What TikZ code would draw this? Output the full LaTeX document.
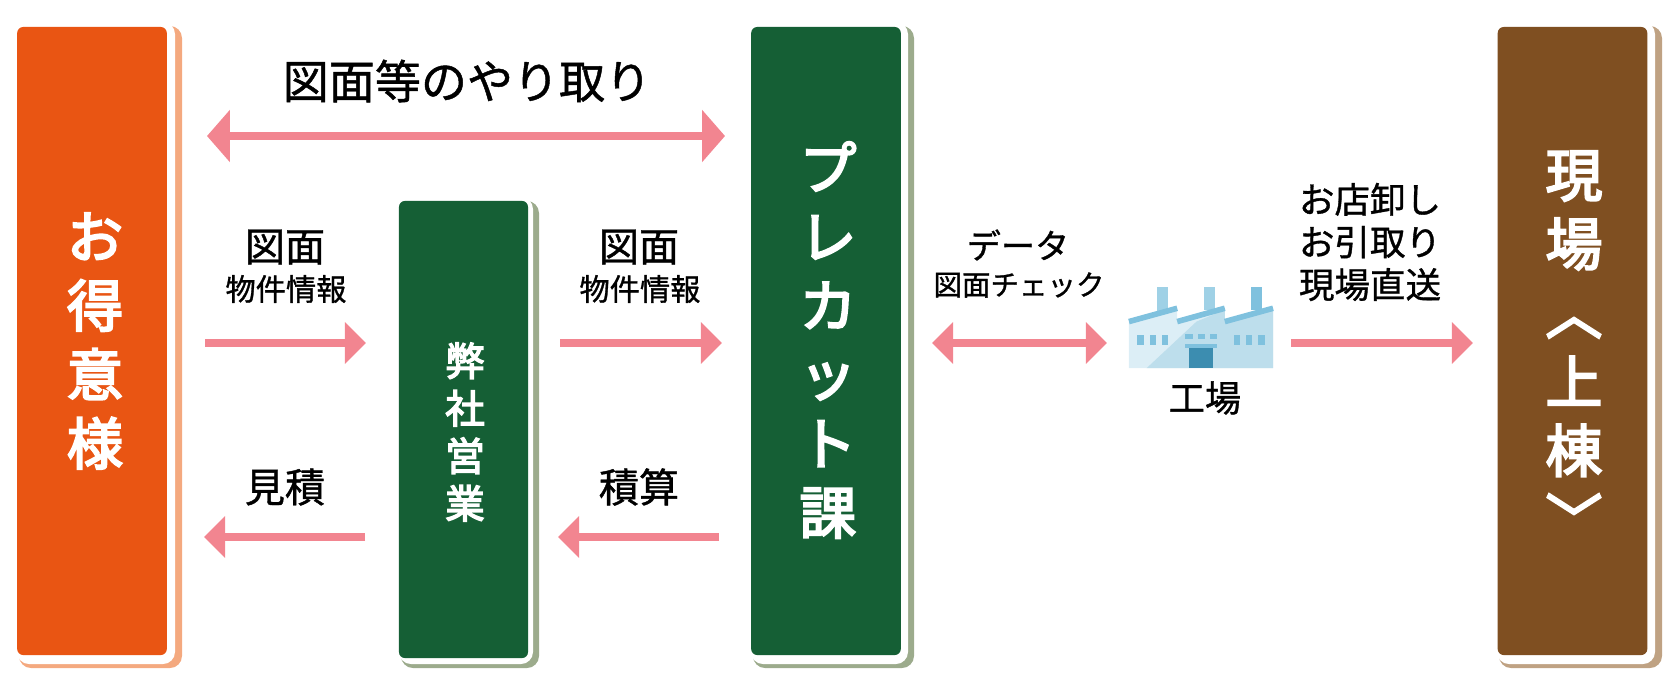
\documentclass[tikz,border=0pt]{standalone}
\usepackage{fontspec}
\usepackage{xcolor}
\setmainfont{Noto Sans CJK JP}[FakeBold=1]
\newfontfamily\panelfont{Noto Sans CJK JP}[FakeBold=3.6]
\usetikzlibrary{arrows.meta}
\definecolor{panelorange}{HTML}{E95513}
\definecolor{shadeorange}{HTML}{F4A97F}
\definecolor{panelgreen}{HTML}{155F35}
\definecolor{shadegreen}{HTML}{9CAB8C}
\definecolor{panelbrown}{HTML}{7F4F21}
\definecolor{shadebrown}{HTML}{BFA283}
\definecolor{flowpink}{HTML}{F28590}
\definecolor{wallpale}{HTML}{DCEEF6}
\definecolor{wallmid}{HTML}{BDDEEC}
\definecolor{roofblue}{HTML}{7FC1DE}
\definecolor{doorblue}{HTML}{3C8DB0}
\tikzset{
  panel/.style={rounded corners=0.6mm,inner sep=0pt},
  widepanel/.style={panel,minimum width=42.54pt,minimum height=178.6pt},
  paneltext/.style={inner sep=0pt,text=white,align=center},
  shade/.style={rounded corners=1.2mm},
  flow/.style={draw=flowpink,line width=2.3pt,-{Triangle[length=6pt,width=11.5pt]}},
  bothflow/.style={draw=flowpink,line width=2.3pt,{Triangle[length=6.5pt,width=14.5pt]}-{Triangle[length=6.5pt,width=14.5pt]}},
  lbl/.style={inner sep=0pt,align=center,text=black},
}
\begin{document}
\begin{tikzpicture}[x=0.01cm,y=-0.01cm]
\useasboundingbox (0,0) rectangle (1668,684);
% panels
\fill[shade,shadeorange] (19,26) rectangle (182,668);
\fill[shade,white] (17,22) rectangle (175,664);
\fill[shade,shadegreen] (401,201) rectangle (539,668);
\fill[shade,white] (399,197) rectangle (533,664);
\fill[shade,shadegreen] (753,26) rectangle (914,668);
\fill[shade,white] (751,22) rectangle (908,664);
\fill[shade,shadebrown] (1499,26) rectangle (1662,668);
\fill[shade,white] (1497,22) rectangle (1655,664);
\node[widepanel,fill=panelorange] (tokui) at (92,341) {};
\node[panel,fill=panelgreen,minimum width=36.7pt,minimum height=130pt] (eigyo) at (463.5,429.5) {};
\node[widepanel,fill=panelgreen] (precut) at (826,341) {};
\node[widepanel,fill=panelbrown] (genba) at (1572.5,341) {};
\node[paneltext,font=\panelfont\fontsize{16}{19.6}\selectfont] (tokuitext) at (95,341) {お\\得\\意\\様};
\node[paneltext,font=\panelfont\fontsize{11.2}{13.5}\selectfont] (eigyotext) at (465,432) {弊\\社\\営\\業};
\node[paneltext,font=\panelfont\fontsize{16.2}{19.6}\selectfont] (precuttext) at (828,340) {プ\\レ\\カ\\ッ\\ト\\課};
\node[paneltext,font=\panelfont\fontsize{16.2}{19.6}\selectfont] (genbatext) at (1574,346) {現\\場\\︿\\上\\棟\\﹀};
% arrows
\coordinate (topL) at (207,136);
\coordinate (topR) at (725,136);
\coordinate (a1s) at (205,343);
\coordinate (a1e) at (366,343);
\coordinate (a2s) at (560,343);
\coordinate (a2e) at (722,343);
\coordinate (b1s) at (365,537);
\coordinate (b1e) at (204,537);
\coordinate (b2s) at (719,537);
\coordinate (b2e) at (558,537);
\coordinate (dataL) at (932,343);
\coordinate (dataR) at (1107,343);
\coordinate (shipS) at (1291,343);
\coordinate (shipE) at (1473,343);
\draw[bothflow] (topL) -- (topR);
\draw[flow] (a1s) -- (a1e);
\draw[flow] (a2s) -- (a2e);
\draw[flow] (b1s) -- (b1e);
\draw[flow] (b2s) -- (b2e);
\draw[bothflow,{Triangle[length=6pt,width=11.5pt]}-{Triangle[length=6pt,width=11.5pt]}] (dataL) -- (dataR);
\draw[flow] (shipS) -- (shipE);
% labels
\node[lbl,font=\fontsize{13.1}{15}\selectfont] (kawashi) at (467,81) {図面等のやり取り};
\node[lbl,font=\fontsize{11.4}{13}\selectfont] (zumenL) at (285,247) {図面};
\node[lbl,font=\fontsize{8.6}{10}\selectfont] (bukkenL) at (286,289) {物件情報};
\node[lbl,font=\fontsize{11.4}{13}\selectfont] (zumenR) at (639,247) {図面};
\node[lbl,font=\fontsize{8.6}{10}\selectfont] (bukkenR) at (640,289) {物件情報};
\node[lbl,font=\fontsize{11.4}{13}\selectfont] (mitsumori) at (285,487) {見積};
\node[lbl,font=\fontsize{11.4}{13}\selectfont] (sekisan) at (639,487) {積算};
\node[lbl,font=\fontsize{9.7}{12}\selectfont] (data) at (1018,245) {データ};
\node[lbl,font=\fontsize{8.1}{10}\selectfont] (check) at (1019,285) {図面チェック};
\node[lbl,font=\fontsize{10.1}{12.1}\selectfont] (ship) at (1370,242) {お店卸し\\お引取り\\現場直送};
\node[lbl,font=\fontsize{10.3}{12}\selectfont] (kojo) at (1205,398) {工場};
% factory
\begin{scope}[shift={(1100,260)},x=0.00333cm,y=-0.00333cm]
\fill[roofblue!75!white] (170,80) rectangle (203,155);
\fill[roofblue!75!white] (312,80) rectangle (345,150);
\fill[roofblue] (455,80) rectangle (488,150);
\fill[wallpale] (87,185) -- (232,150) -- (232,185) -- (375,150) -- (375,185) -- (520,150) -- (520,325) -- (87,325) -- cycle;
\fill[wallmid] (140,325) -- (290,185) -- (375,150) -- (375,185) -- (520,150) -- (520,325) -- cycle;
\draw[roofblue,line width=1.6pt] (87,185) -- (232,145);
\draw[roofblue,line width=1.6pt] (232,185) -- (375,145);
\draw[roofblue,line width=1.6pt] (375,185) -- (520,145);
\fill[roofblue] (112,226) rectangle (133,254);
\fill[roofblue] (149,226) rectangle (168,254);
\fill[roofblue] (186,226) rectangle (205,254);
\fill[roofblue] (402,226) rectangle (421,254);
\fill[roofblue] (438,226) rectangle (458,254);
\fill[roofblue] (474,226) rectangle (495,254);
\fill[roofblue] (256,222) rectangle (280,236);
\fill[roofblue] (293,222) rectangle (317,236);
\fill[roofblue] (330,222) rectangle (353,236);
\fill[roofblue] (254,252) rectangle (353,264);
\fill[doorblue] (268,264) rectangle (339,325);
\end{scope}
\end{tikzpicture}
\end{document}
